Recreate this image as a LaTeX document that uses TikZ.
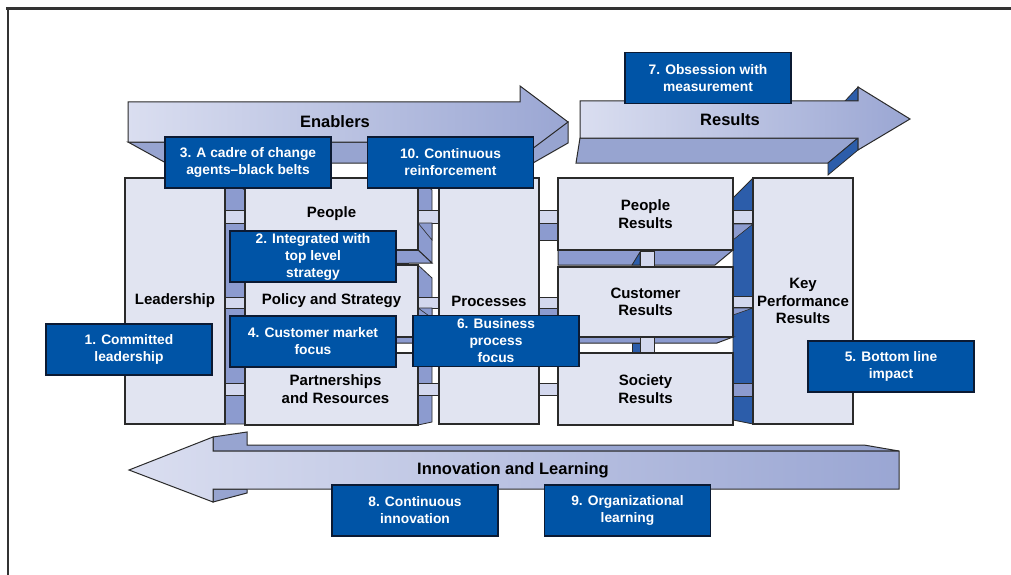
\documentclass[tikz,border=0pt]{standalone}
\usepackage{fontspec}
\setmainfont{Liberation Sans}
\definecolor{edgec}{HTML}{2A2A2A}
\definecolor{framec}{HTML}{333333}
\definecolor{boxfill}{HTML}{E1E4F1}
\definecolor{facec}{HTML}{8C9BCF}
\definecolor{connc}{HTML}{D3D8EE}
\definecolor{darkc}{HTML}{2C5DAA}
\definecolor{tagc}{HTML}{0054A6}
\definecolor{tagedge}{HTML}{0B1A33}
\definecolor{arrowL}{HTML}{DADEF0}
\definecolor{arrowR}{HTML}{9AA6D3}
\definecolor{sidec}{HTML}{97A4D0}
\newcommand\pillarfont{\fontsize{15}{17.3}\selectfont\bfseries}
\newcommand\tagfont{\fontsize{13.8}{17}\selectfont\bfseries}
\newcommand\arrowfont{\fontsize{16.5}{19}\selectfont\bfseries}
\begin{document}
\begin{tikzpicture}[x=1pt,y=-1pt,
  pillar/.style={draw=edgec, fill=boxfill, line width=1.1pt, font=\pillarfont, align=center, inner sep=0pt},
  tagbox/.style={draw=tagedge, fill=tagc, text=white, line width=1.2pt, minimum width=166pt, minimum height=51pt, font=\tagfont, align=center, inner sep=0pt},
  arrowlbl/.style={font=\arrowfont, text=black, inner sep=0pt},
  topface/.style={draw=edgec, line width=1pt, left color=arrowL, right color=arrowR},
  sideface/.style={draw=edgec, line width=1pt, fill=sidec},
  colface/.style={draw=edgec, line width=0.8pt, fill=facec},
  darkface/.style={draw=edgec, line width=0.8pt, fill=darkc},
  conn/.style={draw=edgec, line width=0.6pt, fill=connc},
  connshade/.style={draw=edgec, line width=0.6pt, fill=facec},
  shelf/.style={draw=edgec, line width=1pt, fill=facec}
]
\useasboundingbox (0,0) rectangle (1011,575);
\fill[white] (0,0) rectangle (1011,575);
% frame
\draw[framec, line width=2.6pt] (6,8.5) -- (1011,8.5);
\draw[framec, line width=2.6pt] (8,7.2) -- (8,575);

% Enablers arrow
\draw[sideface] (128,142) -- (166,163) -- (533,163) -- (568,143) -- (568,122) -- (520,142) -- cycle;
\draw[topface] (128,102) -- (520,102) -- (520,86) -- (568,122) -- (520,158) -- (520,142) -- (128,142) -- cycle;
\node[arrowlbl] (enablers) at (335,122) {Enablers};

% Results arrow
\draw[sideface] (580,138) -- (576,163) -- (828,163) -- (858,138) -- cycle;
\draw[darkface] (828,163) -- (828,175) -- (858,150) -- (858,138) -- cycle;
\draw[darkface] (845,101) -- (858,87) -- (858,101) -- cycle;
\draw[topface] (580,101) -- (858,101) -- (858,87) -- (910,119) -- (858,150) -- (858,138) -- (580,138) -- cycle;
\node[arrowlbl] (results) at (730,120) {Results};

% Innovation and Learning arrow
\draw[sideface] (213,437) -- (247,432) -- (247,445) -- (864,445) -- (899,451) -- (213,451) -- cycle;
\draw[sideface] (213,489) -- (247,489) -- (247,493) -- (213,502) -- cycle;
\draw[topface] (129,470) -- (213,437) -- (213,451) -- (899,451) -- (899,489) -- (213,489) -- (213,502) -- cycle;
\node[arrowlbl] (innov) at (513,470) {Innovation and Learning};

% side faces of columns
\draw[colface] (225,178) -- (245,190) -- (245,424) -- (225,424) -- cycle;
\draw[colface] (418,178) -- (432,190) -- (432,263) -- (418,250) -- cycle;
\draw[colface] (418,265) -- (432,278) -- (432,343) -- (418,337) -- cycle;
\draw[colface] (418,353) -- (432,363) -- (432,422) -- (418,425) -- cycle;
\draw[darkface] (733,198) -- (753,178) -- (753,424) -- (733,420) -- cycle;

% horizontal connectors
\foreach \xa/\xb in {225/245, 418/439, 539/558}{
  \draw[conn] (\xa,210) rectangle (\xb,223);
  \draw[conn] (\xa,297) rectangle (\xb,308);
  \draw[conn] (\xa,383) rectangle (\xb,395);
}
\draw[connshade] (418,223) -- (432,223) -- (432,240) -- cycle;
\draw[connshade] (418,308) -- (432,308) -- (432,318) -- cycle;
\draw[connshade] (539,223) rectangle (558,240);
\draw[connshade] (539,308) rectangle (558,317);
\draw[conn] (733,210) rectangle (753,223);
\draw[conn] (733,296) rectangle (753,307);
\draw[connshade] (733,383) rectangle (753,396);
\draw[connshade] (733,224) -- (753,224) -- (733,240) -- cycle;
\draw[connshade] (733,308) -- (753,308) -- (733,315) -- cycle;

% shelves
\draw[shelf] (245,250) -- (418,250) -- (432,263) -- (245,265) -- cycle;
\draw[shelf] (245,337) -- (418,337) -- (425,343) -- (245,343) -- cycle;
\draw[shelf] (558,250) -- (733,250) -- (715,265) -- (558,265) -- cycle;
\draw[shelf] (558,337) -- (733,337) -- (717,343) -- (558,343) -- cycle;
% vertical connectors in results column
\draw[darkface] (632,265) -- (640,252) -- (640,265) -- cycle;
\draw[conn] (640,251) rectangle (654,267);
\draw[darkface] (632,343) rectangle (640,353);
\draw[conn] (640,337) rectangle (654,353);

% pillar boxes
\node[pillar, minimum width=100pt, minimum height=246pt] (lead) at (175,301) {Leadership};
\node[pillar, minimum width=173pt, minimum height=72pt] (people) at (331.5,214) {People};
\node[pillar, minimum width=173pt, minimum height=72pt] (policy) at (331.5,301) {Policy and Strategy};
\node[pillar, minimum width=173pt, minimum height=72pt] (partner) at (331.5,389) {\hspace*{8pt}Partnerships\\\hspace*{8pt}and Resources};
\node[pillar, minimum width=100pt, minimum height=246pt] (proc) at (489,301) {Processes};
\node[pillar, minimum width=175pt, minimum height=72pt] (presults) at (645.5,214) {People\\Results};
\node[pillar, minimum width=175pt, minimum height=70pt] (cresults) at (645.5,302) {Customer\\Results};
\node[pillar, minimum width=175pt, minimum height=72pt] (sresults) at (645.5,389) {Society\\Results};
\node[pillar, minimum width=100pt, minimum height=246pt] (kpr) at (803,301) {Key\\Performance\\Results};

% tag boxes
\node[tagbox] (t7) at (708,78) {7. Obsession with\\measurement};
\node[tagbox] (t3) at (248,162.5) {3. A cadre of change\\agents–black belts};
\node[tagbox] (t10) at (450.5,162.5) {10. Continuous\\reinforcement};
\node[tagbox] (t2) at (313,256.5) {2. Integrated with\\top level\\strategy};
\node[tagbox] (t4) at (313,341.5) {4. Customer market\\focus};
\node[tagbox] (t6) at (496,341) {6. Business\\process\\focus};
\node[tagbox] (t1) at (129,349.5) {1. Committed\\leadership};
\node[tagbox] (t5) at (891,366.5) {5. Bottom line\\impact};
\node[tagbox] (t8) at (415,510.5) {8. Continuous\\innovation};
\node[tagbox] (t9) at (627.5,510.5) {9. Organizational\\learning};
\end{tikzpicture}
\end{document}
